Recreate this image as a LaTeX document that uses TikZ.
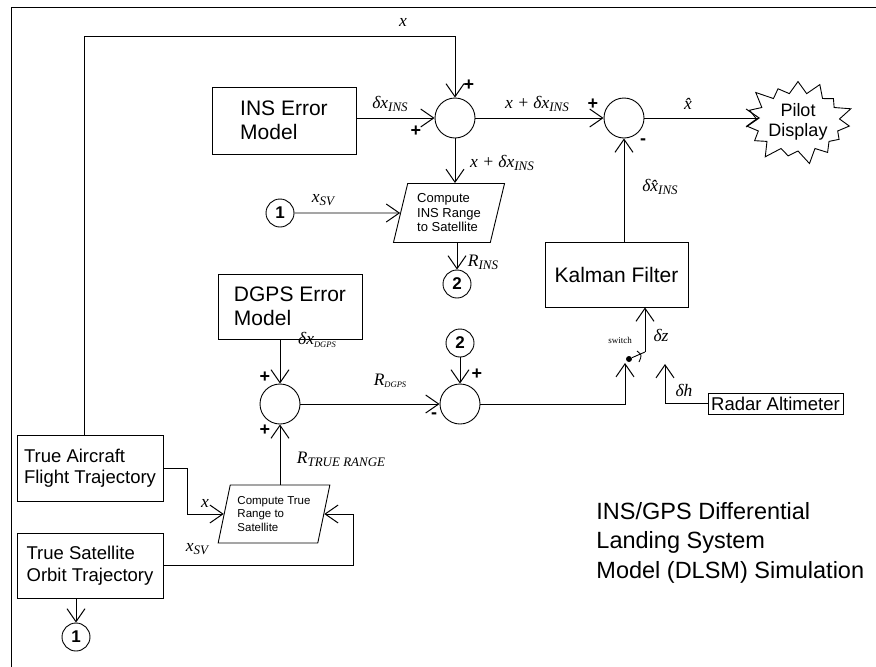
\documentclass[tikz,border=0pt]{standalone}
\usepackage{fontspec}
\setmainfont{Liberation Sans}
\newfontfamily\tms{Liberation Serif}
\usetikzlibrary{arrows.meta,shapes.geometric,shapes.symbols}
\newcommand\lb[1]{{\fontsize{17.5}{19}\selectfont\tms\itshape #1}}
\newcommand\sub[1]{\raisebox{-0.35ex}{\fontsize{13}{13}\selectfont #1}}
\newcommand\tsub[1]{\raisebox{-0.3ex}{\fontsize{8.5}{8.5}\selectfont #1}}
\begin{document}
\begin{tikzpicture}[x=1pt,y=-1pt,line width=0.9pt,
  arr/.style={-{Straight Barb[length=13pt,width=18pt,line width=1pt]}},
  box/.style={draw,rectangle,inner sep=0pt,align=left},
  sumnode/.style={draw,circle,minimum size=40pt,inner sep=0pt},
  conn/.style={draw,circle,minimum size=28pt,inner sep=0pt,font=\fontsize{17}{17}\selectfont\bfseries},
  para/.style={draw,trapezium,trapezium left angle=74,trapezium right angle=106,trapezium stretches=true,inner sep=0pt,align=left},
  pm/.style={font=\fontsize{18}{18}\selectfont\bfseries,inner sep=0pt},
  big/.style={font=\fontsize{21}{24}\selectfont},
  mid/.style={font=\fontsize{18.5}{21.5}\selectfont},
]
\useasboundingbox (0,0) rectangle (876,667);
% frame
\draw (11,667) -- (11,7) -- (876,7);
% nodes
\node[box,big,minimum width=144pt,minimum height=67pt] (ins) at (284,120.5) {INS Error\\Model};
\node[sumnode] (s1) at (455,118) {};
\node[sumnode] (s2) at (624,118) {};
\node[draw,starburst,starburst points=15,starburst point height=16pt,minimum width=112pt,minimum height=90pt,inner sep=0pt,align=center,font=\fontsize{18}{20}\selectfont] (pd) at (798,122) {Pilot\\Display};
\node[box,big,align=center,minimum width=143pt,minimum height=65pt] (kf) at (616.5,274.5) {Kalman Filter};
\node[para,minimum width=112pt,minimum height=59pt,font=\fontsize{13}{14.5}\selectfont] (p1) at (449,213) {Compute\\INS Range\\to Satellite};
\node[conn] (c1a) at (280,213) {1};
\node[conn] (c2a) at (457,284) {2};
\node[box,big,minimum width=144pt,minimum height=65pt] (dg) at (290,306.5) {DGPS Error\\Model};
\node[sumnode] (s3) at (280,404) {};
\node[conn] (c2b) at (460,343) {2};
\node[sumnode] (s4) at (460,404) {};
\node[circle,fill,inner sep=0pt,minimum size=6pt] (dot) at (629,359) {};
\node[box,mid,minimum width=135pt,minimum height=21pt,align=center] (ra) at (775.5,403.5) {Radar Altimeter};
\node[box,mid,minimum width=146pt,minimum height=66pt] (ac) at (90,468) {True Aircraft\\Flight Trajectory};
\node[box,mid,minimum width=146pt,minimum height=65pt] (sat) at (90,565.5) {True Satellite\\Orbit Trajectory};
\node[conn] (c1b) at (76,637) {1};
\node[para,minimum width=112pt,minimum height=58pt,font=\fontsize{11.5}{13.5}\selectfont] (p2) at (274,514) {Compute True\\Range to\\Satellite};
\node[anchor=north west,align=left,inner sep=0pt,font=\fontsize{23.5}{29.5}\selectfont] (cap) at (596,502) {INS/GPS Differential\\Landing System\\Model (DLSM) Simulation};
% coordinates
\coordinate (lp) at (84,36);
\coordinate (swin) at (625,363);
\coordinate (swtop) at (645,352);
\coordinate (rain) at (665,364);
\coordinate (kl) at (187,514);
\coordinate (kr) at (353,514);
\coordinate (pdin) at (760,118);
% connectors
\draw[arr] (lp |- ac.north) -- (lp) -| (s1);
\draw[arr] (ins.east |- s1) -- (s1);
\draw[arr] (s1) -- (s2);
\draw[arr] (s2) -- (pdin);
\draw[arr] (kf.north -| s2) -- (s2);
\draw[arr] (s1) -- (s1 |- p1.north);
\draw[arr] (c1a) -- (p1);
\draw[arr] (p1.south -| c2a) -- (c2a);
\draw[arr] (dg.south -| s3) -- (s3);
\draw[arr] (c2b) -- (s4);
\draw[arr] (s3) -- (s4);
\draw[arr] (s4) -| (swin);
\draw (dot) -- (swtop);
\draw[arr] (swtop) -- (swtop |- kf.south);
\draw (637,351) .. controls (642,355) .. (639,362);
\draw[arr] (ra.west) -| (rain);
\draw[arr] (sat.south -| c1b) -- (c1b);
\draw[arr] (p2.north -| s3) -- (s3);
\draw[arr] (ac.east) -| (kl) -- (p2);
\draw[arr] (sat.east) -| (kr) -- (p2);
% labels
\node at (403,22) {\lb{x}};
\node[pm] at (469,85) {+};
\node[pm] at (416,131) {+};
\node at (390,104) {\lb{δx\sub{INS}}};
\node at (537,104) {\lb{x + δx\sub{INS}}};
\node[pm] at (593,104) {+};
\node at (688,104) {\lb{\^x}};
\node[pm] at (643,142) {-};
\node at (660,187) {\lb{δ\^x\sub{INS}}};
\node at (502,163) {\lb{x + δx\sub{INS}}};
\node at (323,200) {\lb{x\sub{SV}}};
\node at (483,262) {\lb{R\sub{INS}}};
\node at (317,340) {\lb{δx\tsub{DGPS}}};
\node[pm] at (265,377) {+};
\node[pm] at (265,430) {+};
\node at (390,381) {\lb{R\tsub{DGPS}}};
\node[pm] at (434,416) {-};
\node[pm] at (477,374) {+};
\node at (341,459) {\lb{R\sub{TRUE RANGE}}};
\node at (205,503) {\lb{x}};
\node at (197,549) {\lb{x\sub{SV}}};
\node at (620,340) {\fontsize{9}{9}\selectfont\tms switch};
\node at (661,335) {\lb{δz}};
\node at (684,390) {\lb{δh}};
\end{tikzpicture}
\end{document}
